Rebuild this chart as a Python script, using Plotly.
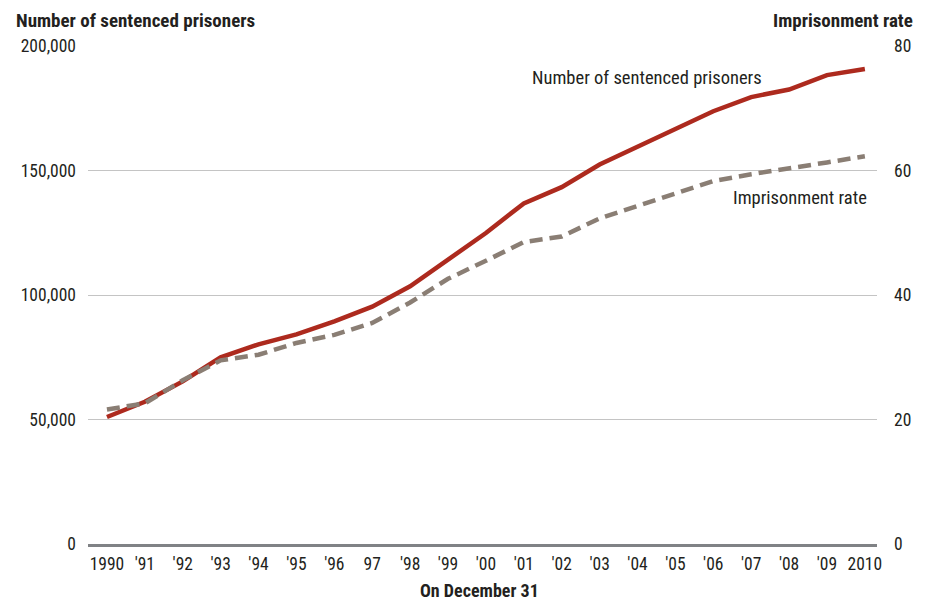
import plotly.graph_objects as go

years = list(range(1990, 2011))
year_labels = ["1990", "'91", "'92", "'93", "'94", "'95", "'96", "97", "'98", "'99",
               "'00", "'01", "'02", "'03", "'04", "'05", "'06", "'07", "'08", "'09", "2010"]
prisoners = [51000, 57100, 65300, 75000, 80200, 84200, 89400, 95300, 103500, 114200,
             124900, 136800, 143300, 152400, 159600, 166500, 173800, 179500, 182500, 188300, 190800]
rate = [21.6, 22.6, 26.3, 29.5, 30.4, 32.3, 33.6, 35.5, 38.8, 42.6,
        45.5, 48.5, 49.4, 52.3, 54.3, 56.3, 58.3, 59.4, 60.3, 61.3, 62.3]
left_ticks = [0, 50000, 100000, 150000, 200000]
left_labels = ["0", "50,000", "100,000", "150,000", "200,000"]
right_ticks = [0, 20, 40, 60, 80]

FONT = "Roboto Condensed, Liberation Sans Narrow, DejaVu Sans Condensed, sans-serif"
TXT = "#231f20"
RED = "#ad2a1e"
GRAY = "#8a7e74"

# page body has an 8px default margin; compensate so the plot area sits where the reference has it
PW, PH = 789, 498

fig = go.Figure()
fig.add_trace(go.Scatter(x=years, y=rate, mode="lines", yaxis="y2",
                         line=dict(color=GRAY, width=4.5, dash="13px,7px"),
                         hoverinfo="skip", showlegend=False))
fig.add_trace(go.Scatter(x=years, y=prisoners, mode="lines",
                         line=dict(color=RED, width=4.5),
                         hoverinfo="skip", showlegend=False))

fig.update_layout(
    width=924, height=595,
    margin=dict(l=80, r=55, t=38, b=59),
    paper_bgcolor="white", plot_bgcolor="white",
    font=dict(family=FONT, size=17.5, color=TXT),
    xaxis=dict(range=[1989.5, 2010.32], tickmode="array", tickvals=years,
               ticktext=year_labels, showgrid=False, zeroline=False,
               showline=True, linecolor="#808285", linewidth=2.5,
               ticks="", tickfont=dict(size=17.5), ticklabelstandoff=2),
    yaxis=dict(range=[0, 200000], tickmode="array", tickvals=left_ticks,
               ticktext=left_labels, showgrid=True, gridcolor="#c4c4c4",
               gridwidth=1, zeroline=False, showline=False, ticks="",
               ticklabelstandoff=11),
    yaxis2=dict(range=[0, 80], overlaying="y", side="right", tickmode="array",
                tickvals=right_ticks, ticktext=[str(v) for v in right_ticks],
                showgrid=False, zeroline=False, showline=False, ticks="",
                ticklabelstandoff=16),
    annotations=[
        dict(text="<b>Number of sentenced prisoners</b>", xref="paper", yref="paper",
             x=-74/PW, y=1.0 + 26/PH, xanchor="left", yanchor="middle",
             showarrow=False, font=dict(size=19, color=TXT)),
        dict(text="<b>Imprisonment rate</b>", xref="paper", yref="paper",
             x=1 + 38/PW, y=1.0 + 26/PH, xanchor="right", yanchor="middle",
             showarrow=False, font=dict(size=19, color=TXT)),
        dict(text="<b>On December 31</b>", xref="paper", yref="paper",
             x=(479-88)/PW, y=-(590-544)/PH, xanchor="center", yanchor="middle",
             showarrow=False, font=dict(size=18, color=TXT)),
        dict(text="Number of sentenced prisoners", xref="x", yref="y",
             x=2004.25, y=187000, xanchor="center", yanchor="middle",
             showarrow=False, font=dict(size=18.5, color=TXT)),
        dict(text="Imprisonment rate", xref="x", yref="y",
             x=2008.3, y=139000, xanchor="center", yanchor="middle",
             showarrow=False, font=dict(size=18.5, color=TXT)),
    ],
)

fig.write_html("out.html")
